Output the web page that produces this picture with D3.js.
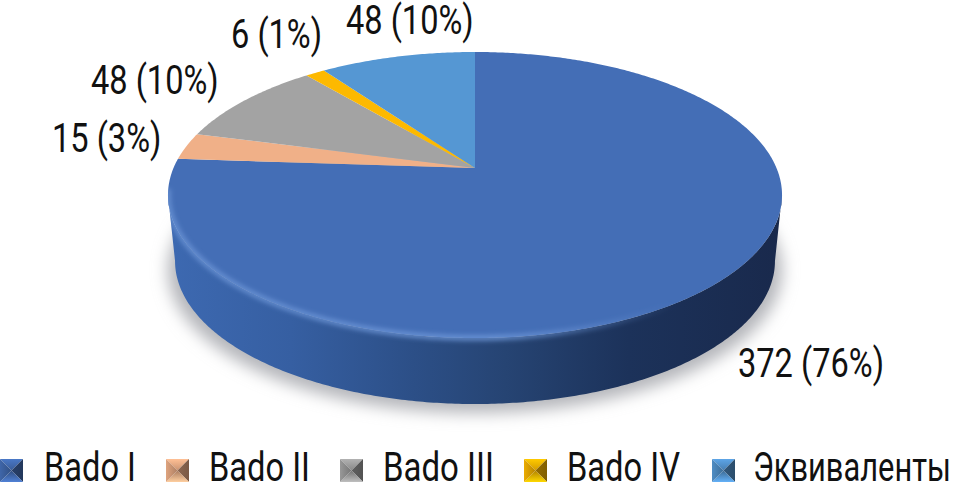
<!DOCTYPE html>
<html>
<head>
<meta charset="utf-8">
<script src="https://cdn.jsdelivr.net/npm/d3@7"></script>
<style>
  html, body { margin: 0; padding: 0; background: #fff; overflow: hidden; }
  text { font-family: Roboto, "Liberation Sans", sans-serif; fill: #111; }
</style>
</head>
<body>
<script>
const categories = ['Bado I', 'Bado II', 'Bado III', 'Bado IV', 'Эквиваленты'];
const values = [372, 15, 48, 6, 48];
const percents = [76, 3, 10, 1, 10];
const colors = ['#446eb6', '#f0b088', '#a3a3a3', '#fdb900', '#5597d3'];

// where each data label and legend entry sits
const labelX = [738, 52, 91, 231, 346];
const labelY = [377, 152, 94, 48, 34];
const legendSwatchX = [0, 166, 340, 524, 712];
const legendTextX = [44, 209, 383, 567, 753];
const legendTextW = [92, 101, 111, 113, 198];

const width = 955, height = 492;
const cx = 475, cy = 168;   // apex of the pie
const persp = -0.1888, vertA = 106.2, horizD = 301.5, depth = 66, taper = 0.977;

const svg = d3.select('body').append('svg')
    .attr('width', width)
    .attr('height', height);
const defs = svg.append('defs');

defs.append('filter').attr('id', 'shadowBlur')
    .attr('x', '-10%').attr('y', '-10%').attr('width', '120%').attr('height', '120%')
    .append('feGaussianBlur').attr('stdDeviation', 8);
defs.append('filter').attr('id', 'bevelBlur')
    .attr('filterUnits', 'userSpaceOnUse')
    .attr('x', 0).attr('y', 0).attr('width', width).attr('height', height)
    .append('feGaussianBlur').attr('stdDeviation', 2.4);

// tilted circle: angle on the pie -> point on screen
function project(a, dy = 0, k = 1) {
    const v = -Math.cos(a);
    const w = 1 + persp * v;
    return [cx + k * horizD * Math.sin(a) / w, (cy + vertA * v) / w + dy];
}

function arcPoints(a0, a1, dy = 0, k = 1) {
    const n = Math.max(2, Math.ceil(Math.abs(a1 - a0) / 0.01));
    return d3.range(n + 1).map(i => project(a0 + (a1 - a0) * i / n, dy, k));
}

const line = d3.line();
const pie = d3.pie().sort(null).value(d => d);
const slices = pie(values);

const aExt = Math.acos(persp);
const front = arcPoints(aExt, 2 * Math.PI - aExt);
const frontLow = arcPoints(2 * Math.PI - aExt, aExt, depth, taper);
const sidePath = line(front.concat(frontLow)) + 'Z';
const topPath = line(arcPoints(0, 2 * Math.PI)) + 'Z';

// shadow under the disc
svg.append('path')
    .attr('d', line(arcPoints(0, 2 * Math.PI, depth + 9)) + 'Z')
    .attr('fill', '#b4b5ba')
    .attr('filter', 'url(#shadowBlur)');

// side of the disc
const sideStops = [
    [0, '#3d69b1'], [0.2, '#365fa2'], [0.4, '#2c4f87'],
    [0.55, '#264473'], [0.75, '#1c325a'], [1, '#19294c']
];
const sideGrad = defs.append('linearGradient').attr('id', 'sideGrad')
    .attr('gradientUnits', 'userSpaceOnUse')
    .attr('x1', cx - 307).attr('x2', cx + 307).attr('y1', 0).attr('y2', 0);
sideGrad.selectAll('stop').data(sideStops).enter().append('stop')
    .attr('offset', d => d[0])
    .attr('stop-color', d => d[1]);

svg.append('path')
    .attr('d', sidePath)
    .attr('fill', 'url(#sideGrad)');

// top face
svg.append('g').selectAll('path').data(slices).enter().append('path')
    .attr('d', d => line([[cx, cy]].concat(arcPoints(d.startAngle, d.endAngle))) + 'Z')
    .attr('fill', (d, i) => colors[i]);

// soft highlight on the rim
const rimGrad = defs.append('linearGradient').attr('id', 'rimGrad')
    .attr('gradientUnits', 'userSpaceOnUse')
    .attr('x1', cx - 307).attr('x2', cx + 200).attr('y1', 0).attr('y2', 0);
rimGrad.append('stop').attr('offset', 0).attr('stop-color', '#7099da').attr('stop-opacity', 0.8);
rimGrad.append('stop').attr('offset', 0.65).attr('stop-color', '#7099da').attr('stop-opacity', 0.9);
rimGrad.append('stop').attr('offset', 1).attr('stop-color', '#7099da').attr('stop-opacity', 0);

defs.append('clipPath').attr('id', 'discClip')
    .append('path').attr('d', topPath + sidePath);

svg.append('g').attr('clip-path', 'url(#discClip)')
    .append('path')
    .attr('d', line(arcPoints(aExt, 2 * Math.PI - 1.72)))
    .attr('fill', 'none')
    .attr('stroke', 'url(#rimGrad)')
    .attr('stroke-width', 5)
    .attr('filter', 'url(#bevelBlur)');

// data labels
const condense = 0.795, fontSize = 41;
svg.append('g').selectAll('text').data(values).enter().append('text')
    .attr('transform', (d, i) => `translate(${labelX[i]},${labelY[i]}) scale(${condense},1)`)
    .attr('font-size', fontSize)
    .text((d, i) => `${d} (${percents[i]}%)`);

// legend
const swatchSize = 23, swatchY = 459;
const legend = svg.append('g').selectAll('g').data(categories).enter().append('g');

// each side of a swatch: [lift at the edge, lift at the centre]
const swatchShades = [[0.25, -0.5], [-1.9, -1.5], [0.45, -1.0], [-0.2, -0.9]];
const shade = (c, s) => (s >= 0 ? c.brighter(s) : c.darker(-s)).formatHex();

legend.each(function (d, i) {
    const g = d3.select(this);
    const c = d3.color(colors[i]);
    const x0 = legendSwatchX[i], y0 = swatchY, s = swatchSize;
    const mid = [x0 + s / 2, y0 + s / 2];
    const corners = [[x0, y0], [x0 + s, y0], [x0 + s, y0 + s], [x0, y0 + s]];
    corners.forEach((p, k) => {
        const q = corners[(k + 1) % 4];
        const id = `sw${i}-${k}`;
        const grad = defs.append('linearGradient').attr('id', id)
            .attr('gradientUnits', 'userSpaceOnUse')
            .attr('x1', (p[0] + q[0]) / 2).attr('y1', (p[1] + q[1]) / 2)
            .attr('x2', mid[0]).attr('y2', mid[1]);
        grad.append('stop').attr('offset', 0).attr('stop-color', shade(c, swatchShades[k][0]));
        grad.append('stop').attr('offset', 1).attr('stop-color', shade(c, swatchShades[k][1]));
        g.append('path')
            .attr('d', line([p, q, mid]) + 'Z')
            .attr('fill', `url(#${id})`);
    });
});

// squeeze each legend label to the width it has in the picture
legend.append('text')
    .attr('font-size', fontSize)
    .text(d => d)
    .attr('transform', function (d, i) {
        const sx = legendTextW[i] / this.getComputedTextLength();
        return `translate(${legendTextX[i]},481) scale(${sx},1)`;
    });
</script>
</body>
</html>
